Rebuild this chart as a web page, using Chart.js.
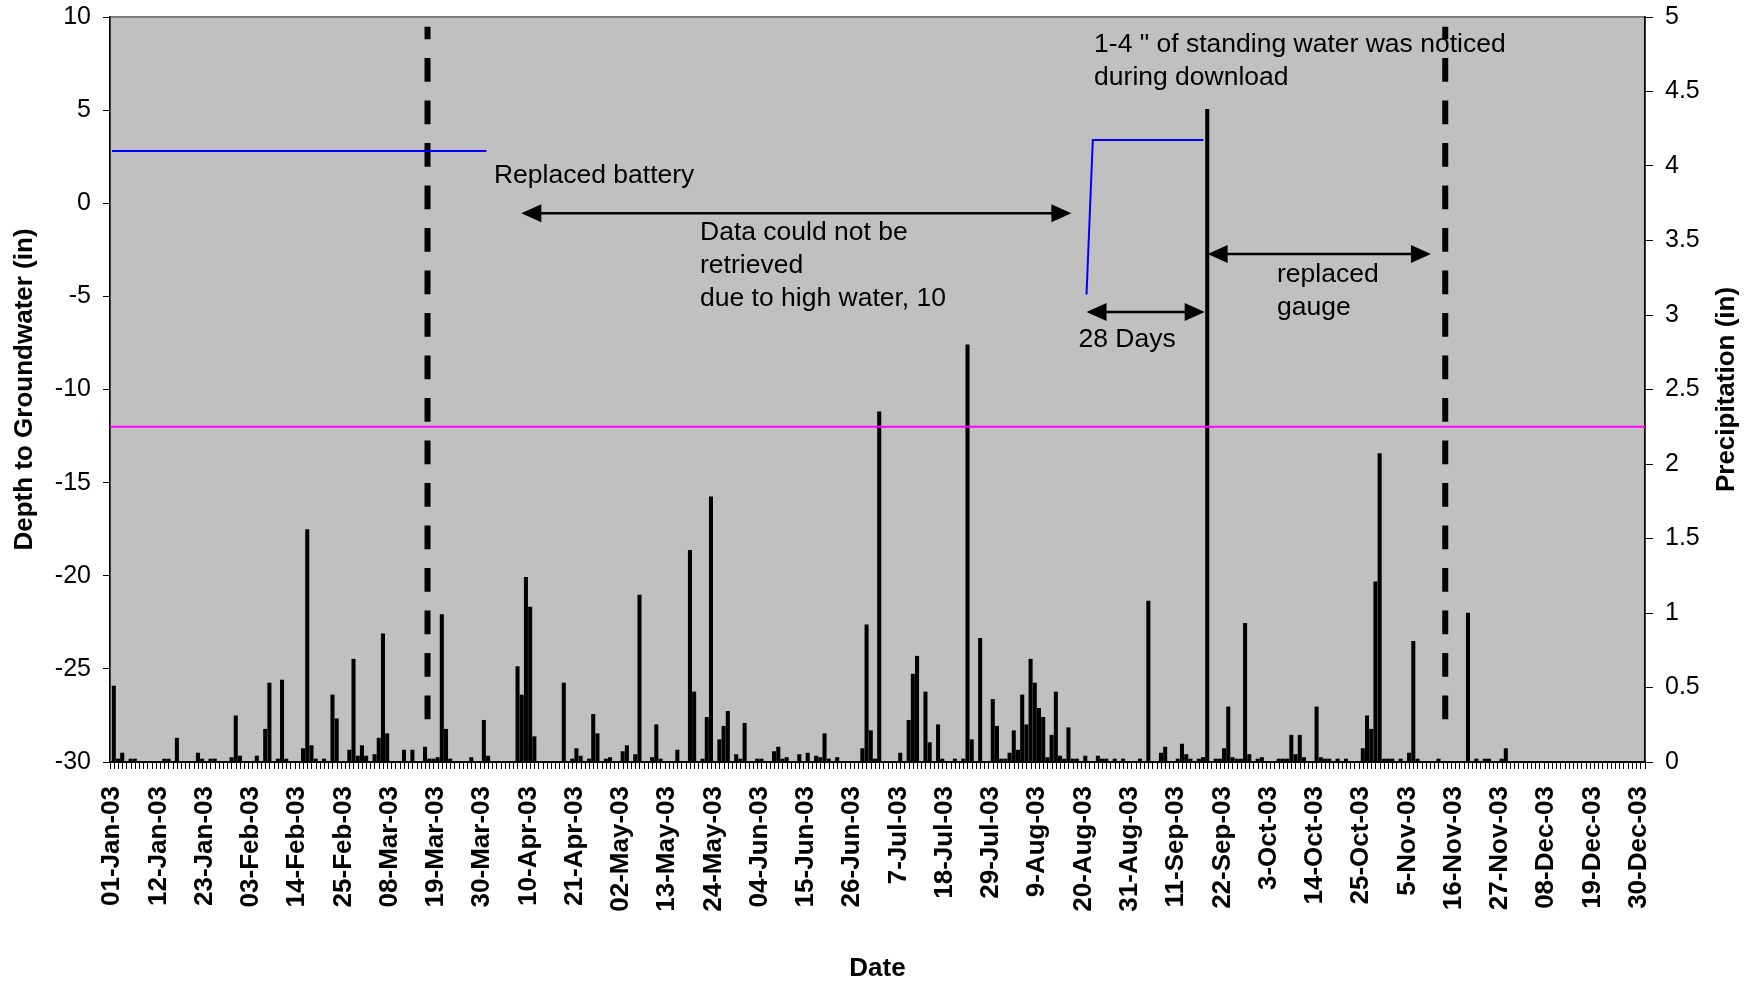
<!DOCTYPE html>
<html>
<head>
<meta charset="utf-8">
<script src="https://cdn.jsdelivr.net/npm/chart.js@4.4.1/dist/chart.umd.min.js"></script>
<style>
  html, body { margin: 0; padding: 0; background: #fff; }
</style>
</head>
<body>
<canvas id="myChart" width="1760" height="982"></canvas>
<script>
// daily precipitation (in), one array per month of 2003
const janRain = [0.51,0.02,0.06,0,0.02,0.02,0,0,0,0,0,0,0.02,0.02,0,0.16,0,0,0,0,0.06,0.02,0,0.02,0.02,0,0,0,0.03,0.31,0.04];
const febRain = [0,0,0,0.04,0,0.22,0.53,0,0.02,0.55,0.02,0,0,0,0.09,1.56,0.11,0.02,0,0.02,0,0.45,0.29,0,0,0.08,0.69,0.04];
const marRain = [0.11,0.04,0,0.05,0.16,0.86,0.19,0,0,0,0.08,0,0.08,0,0,0.1,0.02,0.02,0.03,0.99,0.22,0.02,0,0,0,0,0.03,0,0,0.28,0.04];
const aprRain = [0,0,0,0,0,0,0.64,0.45,1.24,1.04,0.17,0,0,0,0,0,0,0.53,0,0.02,0.09,0.04,0,0.02,0.32,0.19,0,0.02,0.03,0];
const mayRain = [0,0.07,0.11,0,0.05,1.12,0,0,0.03,0.25,0.02,0,0,0,0.08,0,0,1.42,0.47,0,0.02,0.3,1.78,0,0.15,0.24,0.34,0,0.05,0.02,0.26];
const junRain = [0,0,0.02,0.02,0,0,0.07,0.1,0.02,0.03,0,0,0.05,0,0.06,0,0.04,0.03,0.19,0.02,0,0.03,0,0,0,0,0,0.09,0.92,0.21];
const julRain = [0.02,2.35,0,0,0,0,0.06,0,0.28,0.59,0.71,0,0.47,0.13,0,0.25,0.02,0,0,0.02,0,0.02,2.8,0.15,0,0.83,0,0,0.42,0.24,0.02];
const augRain = [0.02,0.06,0.21,0.08,0.45,0.25,0.69,0.53,0.36,0.3,0.03,0.18,0.47,0.04,0.02,0.23,0.02,0.02,0,0.04,0,0,0.04,0.02,0.02,0,0.02,0,0.02,0,0];
const sepRain = [0,0.02,0,1.08,0,0,0.06,0.1,0,0,0.02,0.12,0.05,0.02,0,0.02,0.03,4.38,0,0.02,0.02,0.09,0.37,0.03,0.02,0.02,0.93,0.05,0,0.02];
const octRain = [0.03,0,0,0,0.02,0.02,0.02,0.18,0.05,0.18,0.03,0,0,0.37,0.03,0.02,0.02,0,0.02,0,0.02,0,0,0,0.09,0.31,0.22,1.21,2.07,0.02,0.02];
const novRain = [0.02,0,0.02,0,0.06,0.81,0.02,0,0,0,0,0.02,0,0,0,0,0,0,1,0,0.02,0,0.02,0.02,0,0,0.02,0.09,0,0];
const decRain = [0,0,0,0,0,0,0,0,0,0,0,0,0,0,0,0,0,0,0,0,0,0,0,0,0,0,0,0,0,0,0];

// labels shown under the axis, one every 11 days
const tickLabels = ['01-Jan-03','12-Jan-03','23-Jan-03','03-Feb-03','14-Feb-03','25-Feb-03','08-Mar-03',
  '19-Mar-03','30-Mar-03','10-Apr-03','21-Apr-03','02-May-03','13-May-03','24-May-03','04-Jun-03',
  '15-Jun-03','26-Jun-03','7-Jul-03','18-Jul-03','29-Jul-03','9-Aug-03','20-Aug-03','31-Aug-03',
  '11-Sep-03','22-Sep-03','3-Oct-03','14-Oct-03','25-Oct-03','5-Nov-03','16-Nov-03','27-Nov-03',
  '08-Dec-03','19-Dec-03','30-Dec-03'];

// groundwater depth (in), day of year; null = no record
const gwDay = [0, 89, 90, 231.7, 233.2, 259.5];
const gwDepth = [2.8, 2.8, null, -4.9, 3.4, 3.4];

const refDepth = -12;              // magenta reference line
const visitDays = [75, 317];       // dashed site visits
const visitTop = 9.47, visitBottom = -27.7;

// arrows: from day, to day, at depth
const arrowFrom = [97.3, 231.7, 260.5];
const arrowTo = [228.1, 259.8, 313.6];
const arrowDepth = [-0.54, -5.84, -2.73];

const notes = [
  { day: 90.8, depth: 1.1, lines: ['Replaced battery'] },
  { day: 139.8, depth: -1.97, lines: ['Data could not be', 'retrieved', 'due to high water, 10'] },
  { day: 233.5, depth: 8.11, lines: ['1-4 " of standing water was noticed', 'during download'] },
  { day: 229.8, depth: -7.7, lines: ['28 Days'] },
  { day: 277.0, depth: -4.21, lines: ['replaced', 'gauge'] }
];

const FONT = 'Liberation Sans, Arial, sans-serif';
Chart.defaults.font.family = FONT;
Chart.defaults.color = '#000';

var rain = [];
[janRain, febRain, marRain, aprRain, mayRain, junRain, julRain, augRain, sepRain, octRain, novRain, decRain]
  .forEach(function (m) { rain = rain.concat(m); });

var dayLabels = [];
for (var i = 0; i < rain.length; i++) {
  dayLabels.push(new Date(2003, 0, 1 + i).toDateString());
}

var gwPoints = [];
for (var i = 0; i < gwDay.length; i++) gwPoints.push({ x: gwDay[i], y: gwDepth[i] });

var datasets = [
  {
    type: 'line', label: 'Depth to groundwater', data: gwPoints,
    xAxisID: 'xl', yAxisID: 'y', borderColor: '#0000ff', borderWidth: 2,
    pointRadius: 0, spanGaps: false, tension: 0, order: 1
  },
  {
    type: 'line', label: 'Reference', data: [{ x: -0.5, y: refDepth }, { x: 364.5, y: refDepth }],
    xAxisID: 'xl', yAxisID: 'y', borderColor: '#ff00ff', borderWidth: 2, pointRadius: 0, order: 2
  }
];
visitDays.forEach(function (d) {
  datasets.push({
    type: 'line', label: 'Visit', data: [{ x: d, y: visitBottom }, { x: d, y: visitTop }],
    xAxisID: 'xl', yAxisID: 'y', borderColor: '#000', borderWidth: 6,
    borderDash: [23.7, 18.8], pointRadius: 0, order: 1
  });
});
datasets.push({
  type: 'bar', label: 'Precipitation', data: rain, xAxisID: 'x', yAxisID: 'y1',
  backgroundColor: '#000', borderWidth: 0, barThickness: 3.4, order: 5
});

function arrowHead(ctx, x, y, dir) {
  ctx.beginPath();
  ctx.moveTo(x, y);
  ctx.lineTo(x - dir * 20, y - 9);
  ctx.lineTo(x - dir * 20, y + 9);
  ctx.closePath();
  ctx.fill();
}

// y axes: no extra top/bottom room for the end labels
function fixWidth(w) {
  return function (s) { s.width = w; s.paddingTop = 0; s.paddingBottom = 0; };
}

const plotDecor = {
  id: 'plotDecor',
  beforeDraw(chart) {
    const { ctx, chartArea: a } = chart;
    ctx.save();
    ctx.fillStyle = '#c0c0c0';
    ctx.fillRect(a.left, a.top, a.right - a.left, a.bottom - a.top);
    ctx.strokeStyle = '#808080';
    ctx.lineWidth = 2;
    ctx.strokeRect(a.left, a.top, a.right - a.left, a.bottom - a.top);
    ctx.restore();
  },
  afterDatasetsDraw(chart) {
    const ctx = chart.ctx, sx = chart.scales.xl, sy = chart.scales.y;
    ctx.save();
    ctx.fillStyle = '#000';
    ctx.strokeStyle = '#000';
    ctx.lineWidth = 2.5;
    for (var i = 0; i < arrowFrom.length; i++) {
      var x1 = sx.getPixelForValue(arrowFrom[i]);
      var x2 = sx.getPixelForValue(arrowTo[i]);
      var y = sy.getPixelForValue(arrowDepth[i]);
      ctx.beginPath();
      ctx.moveTo(x1 + 10, y);
      ctx.lineTo(x2 - 10, y);
      ctx.stroke();
      arrowHead(ctx, x1, y, -1);
      arrowHead(ctx, x2, y, 1);
    }
    ctx.font = '26.5px ' + FONT;
    ctx.textAlign = 'left';
    ctx.textBaseline = 'alphabetic';
    notes.forEach(function (n) {
      var x = sx.getPixelForValue(n.day);
      var y = sy.getPixelForValue(n.depth);
      n.lines.forEach(function (t, k) { ctx.fillText(t, x, y + k * 33); });
    });
    ctx.restore();
  },
  afterDraw(chart) {
    const ctx = chart.ctx, a = chart.chartArea;
    ctx.save();
    ctx.translate(1727, (a.top + a.bottom) / 2);
    ctx.rotate(-Math.PI / 2);
    ctx.font = 'bold 26px ' + FONT;
    ctx.fillStyle = '#000';
    ctx.textAlign = 'center';
    ctx.textBaseline = 'middle';
    ctx.fillText('Precipitation (in)', 0, 0);
    ctx.restore();
  }
};

const config = {
  type: 'bar',
  data: { labels: dayLabels, datasets: datasets },
  options: {
    responsive: false,
    animation: false,
    devicePixelRatio: 1,
    layout: { padding: { top: 17, left: 0, right: 0, bottom: 0 } },
    plugins: { legend: { display: false }, tooltip: { enabled: false } },
    scales: {
      x: {
        type: 'category', position: 'bottom', offset: true,
        grid: { offset: true, drawOnChartArea: false, drawTicks: true, tickLength: 7, color: '#000', lineWidth: 1 },
        border: { color: '#000', width: 2 },
        ticks: {
          autoSkip: false, minRotation: 90, maxRotation: 90, padding: 17,
          font: { size: 26, weight: 'bold' },
          callback: function (v, i) { return i % 11 === 0 ? tickLabels[i / 11] : ''; }
        },
        title: { display: true, text: 'Date', font: { size: 26, weight: 'bold' }, padding: { top: 0, bottom: -2 } },
        afterFit: function (s) { s.height = 220; }
      },
      xl: {
        type: 'linear', position: 'bottom', display: false, offset: false,
        grid: { offset: false }, min: -0.5, max: 364.5
      },
      y: {
        type: 'linear', position: 'left', min: -30, max: 10,
        grid: { drawOnChartArea: false, tickLength: 7, color: '#000' },
        border: { color: '#000', width: 1.5 },
        ticks: { stepSize: 5, padding: 12, font: { size: 25 } },
        title: { display: true, text: 'Depth to Groundwater (in)', font: { size: 26, weight: 'bold' }, padding: { top: 9, bottom: 0 } },
        afterFit: fixWidth(110)
      },
      y1: {
        type: 'linear', position: 'right', min: 0, max: 5,
        grid: { drawOnChartArea: false, tickLength: 8, color: '#000' },
        border: { color: '#000', width: 1.5 },
        ticks: {
          stepSize: 0.5, padding: 12, font: { size: 25 },
          callback: function (v) { return String(Math.round(v * 10) / 10); }
        },
        afterFit: fixWidth(115)
      }
    }
  },
  plugins: [plotDecor]
};

const myChart = new Chart(document.getElementById('myChart'), config);
</script>
</body>
</html>
